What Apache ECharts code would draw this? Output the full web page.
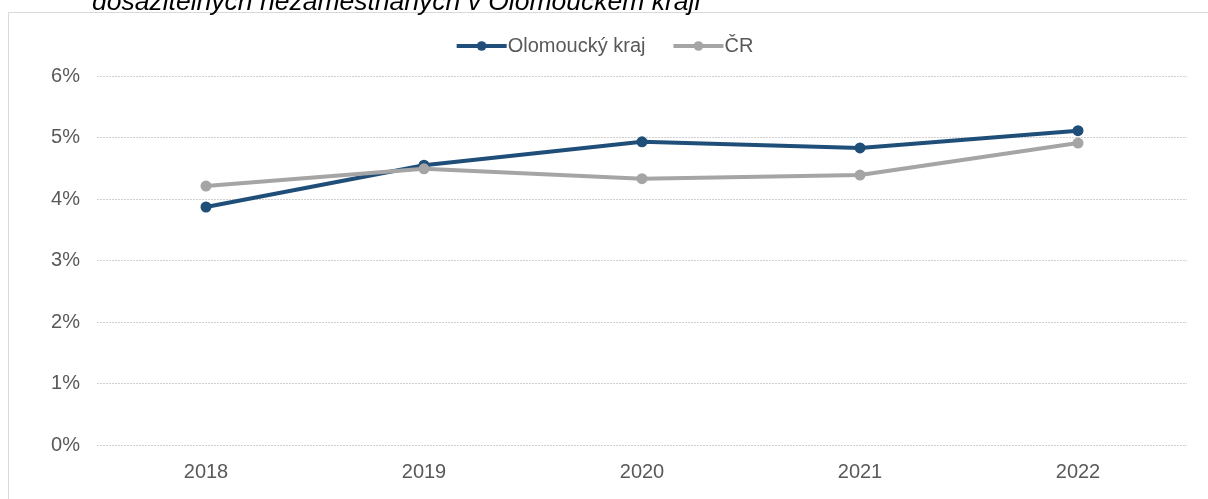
<!DOCTYPE html>
<html>
<head>
<meta charset="utf-8">
<script src="https://cdn.jsdelivr.net/npm/echarts@6/dist/echarts.min.js"></script>
<style>
  html, body { margin: 0; padding: 0; background: #fff; }
  #chart { width: 1208px; height: 499px; }
</style>
</head>
<body>
<div id="chart"></div>
<script>
// data
const years = ['2018', '2019', '2020', '2021', '2022'];
const olomoucky = [3.87, 4.55, 4.93, 4.83, 5.11];
const cr = [4.21, 4.49, 4.33, 4.39, 4.91];
const yTicks = [0, 1, 2, 3, 4, 5, 6];

const chart = echarts.init(document.getElementById('chart'));
const font = '"Liberation Sans", Arial, sans-serif';

chart.setOption({
  animation: false,
  textStyle: { fontFamily: font },
  graphic: [
    {
      type: 'rect',
      shape: { x: 8.5, y: 12.5, width: 1300, height: 600 },
      style: { fill: 'none', stroke: '#d9d9d9', lineWidth: 1 }
    },
    {
      type: 'text',
      x: 92, y: 16,
      style: {
        text: 'dosažitelných nezaměstnaných v Olomouckém kraji',
        font: 'italic 26.5px "Liberation Sans", Arial, sans-serif',
        fill: '#000',
        verticalAlign: 'bottom'
      }
    }
  ],
  legend: {
    top: 31,
    left: 'center',
    itemGap: 26,
    itemWidth: 50,
    itemHeight: 12,
    lineStyle: { width: 4 },
    textStyle: { fontSize: 20, color: '#595959', fontFamily: font, padding: [0, 0, 0, -4] },
    data: ['Olomoucký kraj', 'ČR']
  },
  grid: { left: 97, right: 21, top: 76, bottom: 54 },
  xAxis: {
    type: 'category',
    data: years,
    boundaryGap: true,
    axisLine: { show: false },
    axisTick: { show: false },
    axisLabel: { fontSize: 20, color: '#595959', margin: 17 }
  },
  yAxis: {
    type: 'value',
    min: yTicks[0],
    max: yTicks[yTicks.length - 1],
    interval: 1,
    axisLabel: { fontSize: 20, color: '#595959', margin: 17, formatter: v => v + '%' },
    splitLine: { lineStyle: { color: '#d0d0d0', type: [2, 1], width: 1 } }
  },
  series: [
    {
      name: 'Olomoucký kraj',
      type: 'line',
      data: olomoucky,
      symbol: 'circle',
      symbolSize: 11,
      lineStyle: { color: '#1f4e79', width: 4 },
      itemStyle: { color: '#1f4e79' }
    },
    {
      name: 'ČR',
      type: 'line',
      data: cr,
      symbol: 'circle',
      symbolSize: 11,
      lineStyle: { color: '#a5a5a5', width: 4 },
      itemStyle: { color: '#a5a5a5' }
    }
  ]
});
</script>
</body>
</html>
